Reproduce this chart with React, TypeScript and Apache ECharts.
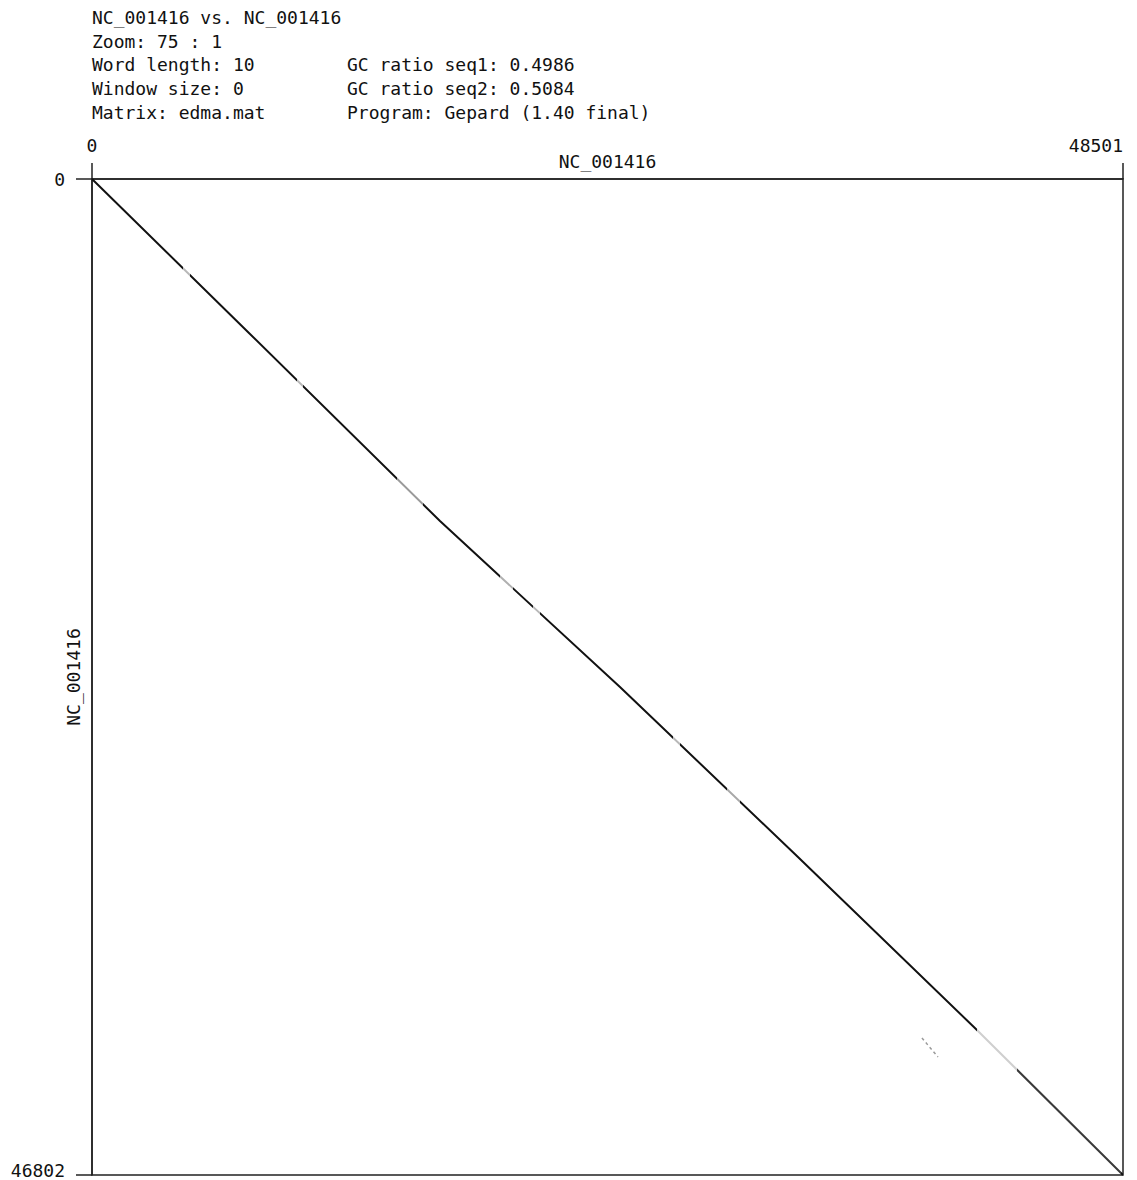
import React, { useEffect, useRef } from "react";
import * as echarts from "echarts";

// ---- data ----
const seq1Name = "NC_001416";
const seq2Name = "NC_001416";
const seq1Length = 48501;
const seq2Length = 46802;
const xTickLabels = ["0", "48501"];
const yTickLabels = ["0", "46802"];

const headerLeft = [
  "NC_001416 vs. NC_001416",
  "Zoom: 75 : 1",
  "Word length: 10",
  "Window size: 0",
  "Matrix: edma.mat",
];
const headerRight = [
  "",
  "",
  "GC ratio seq1: 0.4986",
  "GC ratio seq2: 0.5084",
  "Program: Gepard (1.40 final)",
];

// main diagonal (position in seq1, position in seq2)
const diagonalX = [0, 7432, 16370, 24837, 33210, 41630, 48501];
const diagonalY = [0, 7283, 16071, 23871, 31859, 39988, 46802];

// weaker stretches along the diagonal: [from seq1 pos, to seq1 pos, shade]
const weakFrom = [4281, 9643, 14347, 19192, 20745, 27330, 29870, 41630, 43512];
const weakTo = [4610, 9925, 15570, 19804, 21074, 27660, 30482, 43512, 48400];
const weakShade = ["#b8b8b8", "#b8b8b8", "#9a9a9a", "#b0b0b0", "#b8b8b8", "#b8b8b8", "#a8a8a8", "#cfcfcf", "#3a3a3a"];

// short side match
const sideX = [39043, 39796];
const sideY = [40364, 41257];

const MONO = "'DejaVu Sans Mono', 'Liberation Mono', monospace";

export default function App() {
  const ref = useRef<HTMLDivElement>(null);
  useEffect(() => {
    if (!ref.current) return;
    const chart = echarts.init(ref.current, null, { renderer: "svg" });

    const diag = diagonalX.map((x, i) => [x, diagonalY[i]]);
    const side = sideX.map((x, i) => [x, sideY[i]]);

    const pieces: any[] = [];
    let prev = -1;
    weakFrom.forEach((f, i) => {
      pieces.push({ gte: prev, lt: f, color: "#111111" });
      pieces.push({ gte: f, lt: weakTo[i], color: weakShade[i] });
      prev = weakTo[i];
    });
    pieces.push({ gte: prev, lte: seq1Length + 10, color: "#111111" });

    const graphics: any[] = [];
    const lineY = [18, 42, 65, 89, 113];
    headerLeft.forEach((t, i) => {
      graphics.push({
        type: "text",
        left: 92,
        top: lineY[i] - 10,
        style: { text: t, font: `18px ${MONO}`, fill: "#111" },
      });
    });
    headerRight.forEach((t, i) => {
      if (!t) return;
      graphics.push({
        type: "text",
        left: 347,
        top: lineY[i] - 10,
        style: { text: t, font: `18px ${MONO}`, fill: "#111" },
      });
    });

    chart.setOption({
      animation: false,
      backgroundColor: "#ffffff",
      graphic: graphics,
      grid: {
        left: 92,
        top: 179,
        right: 14,
        bottom: 5,
        show: true,
        borderColor: "#222",
        borderWidth: 1.5,
        containLabel: false,
        outerBoundsMode: "none",
      },
      xAxis: {
        type: "value",
        position: "top",
        min: 0,
        max: seq1Length,
        interval: seq1Length,
        name: seq1Name,
        nameLocation: "middle",
        nameGap: 9,
        nameMoveOverlap: false,
        nameTextStyle: { fontFamily: MONO, fontSize: 18, color: "#111" },
        axisLine: { show: true, lineStyle: { color: "#222", width: 1.5 } },
        axisTick: { show: true, inside: false, length: 16, lineStyle: { color: "#222", width: 1.5 } },
        axisLabel: {
          show: true,
          margin: 25,
          fontFamily: MONO,
          fontSize: 18,
          color: "#111",
          showMinLabel: true,
          showMaxLabel: true,
          alignMaxLabel: "right",
          formatter: (v: number) => (v === 0 ? xTickLabels[0] : xTickLabels[1]),
        },
        splitLine: { show: false },
      },
      yAxis: {
        type: "value",
        inverse: true,
        min: 0,
        max: seq2Length,
        interval: seq2Length,
        name: seq2Name,
        nameLocation: "middle",
        nameGap: 10,
        nameMoveOverlap: false,
        nameTextStyle: { fontFamily: MONO, fontSize: 18, color: "#111" },
        axisLine: { show: true, lineStyle: { color: "#222", width: 1.5 } },
        axisTick: { show: true, inside: false, length: 16, lineStyle: { color: "#222", width: 1.5 } },
        axisLabel: {
          show: true,
          margin: 27,
          fontFamily: MONO,
          fontSize: 18,
          color: "#111",
          showMinLabel: true,
          showMaxLabel: true,
          formatter: (v: number) => (v === 0 ? yTickLabels[0] : `{b|${yTickLabels[1]}}`),
          rich: {
            b: { fontFamily: MONO, fontSize: 18, color: "#111", padding: [0, 0, 10, 0] },
          },
        },
        splitLine: { show: false },
      },
      visualMap: {
        type: "piecewise",
        show: false,
        dimension: 0,
        seriesIndex: 0,
        pieces,
      },
      series: [
        {
          type: "line",
          data: diag,
          showSymbol: false,
          symbol: "none",
          silent: true,
          lineStyle: { width: 2 },
        },
        {
          type: "line",
          data: side,
          showSymbol: false,
          symbol: "none",
          silent: true,
          lineStyle: { width: 1.5, color: "#9a9a9a", type: [3, 3] },
        },
      ],
    });
    return () => chart.dispose();
  }, []);
  return (
    <div
      ref={ref}
      style={{ position: "absolute", left: 0, top: 0, width: 1137, height: 1180, background: "#fff" }}
    />
  );
}
